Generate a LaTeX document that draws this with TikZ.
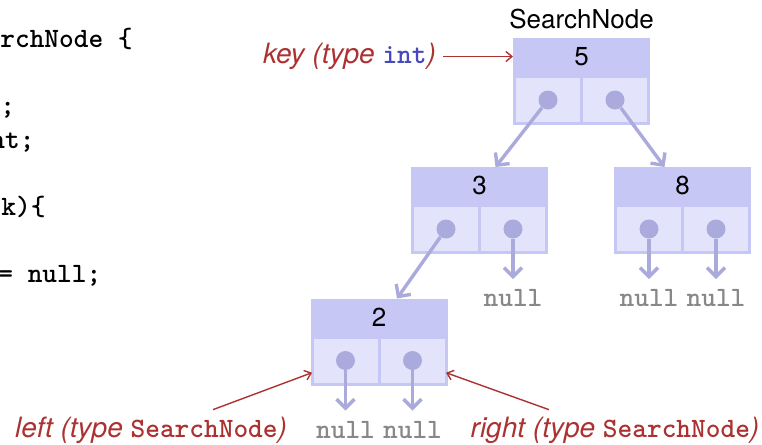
\documentclass[tikz,border=0pt]{standalone}
\usepackage{fontspec}
\setsansfont{TeX Gyre Heros}
\usepackage{tikz}
\usetikzlibrary{
  arrows.meta,
  positioning
}
\usepackage{xcolor}
\definecolor{headblue}{RGB}{199,199,246}
\definecolor{cellblue}{RGB}{227,227,251}
\definecolor{dotblue}{RGB}{170,170,220}
\definecolor{notered}{RGB}{172,50,50}
\definecolor{intblue}{RGB}{72,72,190}
\definecolor{nullgray}{RGB}{136,136,136}
\newcommand{\jt}[1]{{\upshape\ttfamily\bfseries #1}}
\newcommand{\recnode}[3]{%
  \node[keybox] (n#1) at (#2) {#3};
  \node[refcell, anchor=north west] (c#1l)
    at ([xshift=0.75pt,yshift=-0.75pt]n#1.south west) {};
  \node[refcell, right=0pt of c#1l] (c#1r) {};
  \node[refdot] (d#1l) at (c#1l) {};
  \node[refdot] (d#1r) at (c#1r) {};
}
\tikzset{
  keybox/.style={
    fill=headblue, minimum width=68.5pt, minimum height=18.5pt,
    inner sep=0pt, outer sep=0pt,
    font=\sffamily\fontsize{13}{15}\selectfont
  },
  refcell/.style={
    fill=cellblue, draw=headblue, line width=1.5pt,
    minimum width=33.5pt, minimum height=23.5pt,
    inner sep=0pt, outer sep=0pt
  },
  refdot/.style={
    circle, fill=dotblue, minimum size=9.5pt, inner sep=0pt
  },
  ptr/.style={
    -{Straight Barb[length=4.5pt,width=9pt]}, line width=1.7pt, draw=dotblue
  },
  nullword/.style={
    font=\ttfamily\bfseries\fontsize{14}{16}\selectfont, text=nullgray,
    inner xsep=0pt, inner ysep=5pt
  },
  note/.style={
    -{Straight Barb[length=3pt,width=5pt]}, line width=0.7pt, draw=notered
  },
  notetext/.style={
    font=\sffamily\itshape\fontsize{14}{17}\selectfont, text=notered
  },
  codeline/.style={
    font=\ttfamily\bfseries\fontsize{14}{16}\selectfont,
    anchor=base west, inner sep=0pt
  },
}
\begin{document}
\begin{tikzpicture}[x=0.5pt, y=-0.5pt]
  \useasboundingbox (0,0) rectangle (762,445);

  % code fragment, cut at the left edge
  \node[codeline] (cl1) at (0,47)   {rchNode \{};
  \node[codeline] (cl2) at (0,114)  {;};
  \node[codeline] (cl3) at (-10,148) {nt;};
  \node[codeline] (cl4) at (1,215)  {k)\{};
  \node[codeline] (cl5) at (-2,282) {= null;};

  % records
  \recnode{5}{581.5,56.5}{5}
  \recnode{3}{479.5,185.5}{3}
  \recnode{8}{682.5,185.5}{8}
  \recnode{2}{379,317}{2}

  \node[font=\sffamily\fontsize{13}{15}\selectfont, inner sep=0pt,
    above=4.5pt of n5] (title) {SearchNode};

  % links
  \draw[ptr] (d5l) -- ([xshift=8pt]n3.north);
  \draw[ptr] (d5r) -- ([xshift=-9pt]n8.north);
  \draw[ptr] (d3l) -- ([xshift=9pt]n2.north);

  \node[nullword, below=25pt of d3r.center] (null3r) {null};
  \node[nullword, below=25pt of d8l.center] (null8l) {null};
  \node[nullword, below=25pt of d8r.center] (null8r) {null};
  \node[nullword, below=25pt of d2l.center] (null2l) {null};
  \node[nullword, below=25pt of d2r.center] (null2r) {null};
  \draw[ptr] (d3r) -- (null3r);
  \draw[ptr] (d8l) -- (null8l);
  \draw[ptr] (d8r) -- (null8r);
  \draw[ptr] (d2l) -- (null2l);
  \draw[ptr] (d2r) -- (null2r);

  % annotations
  \node[notetext, left=35pt of n5] (keylbl)
    {key (type \textcolor{intblue}{\jt{int}})};
  \node[notetext] (leftlbl) at (151,430) {left (type \jt{SearchNode})};
  \node[notetext] (rightlbl) at (615,430) {right (type \jt{SearchNode})};

  \draw[note] (keylbl) -- (n5.west);
  \draw[note] ([xshift=31pt]leftlbl.north) -- (c2l.200);
  \draw[note] ([xshift=-33pt]rightlbl.north) -- (c2r.340);

\end{tikzpicture}
\end{document}
